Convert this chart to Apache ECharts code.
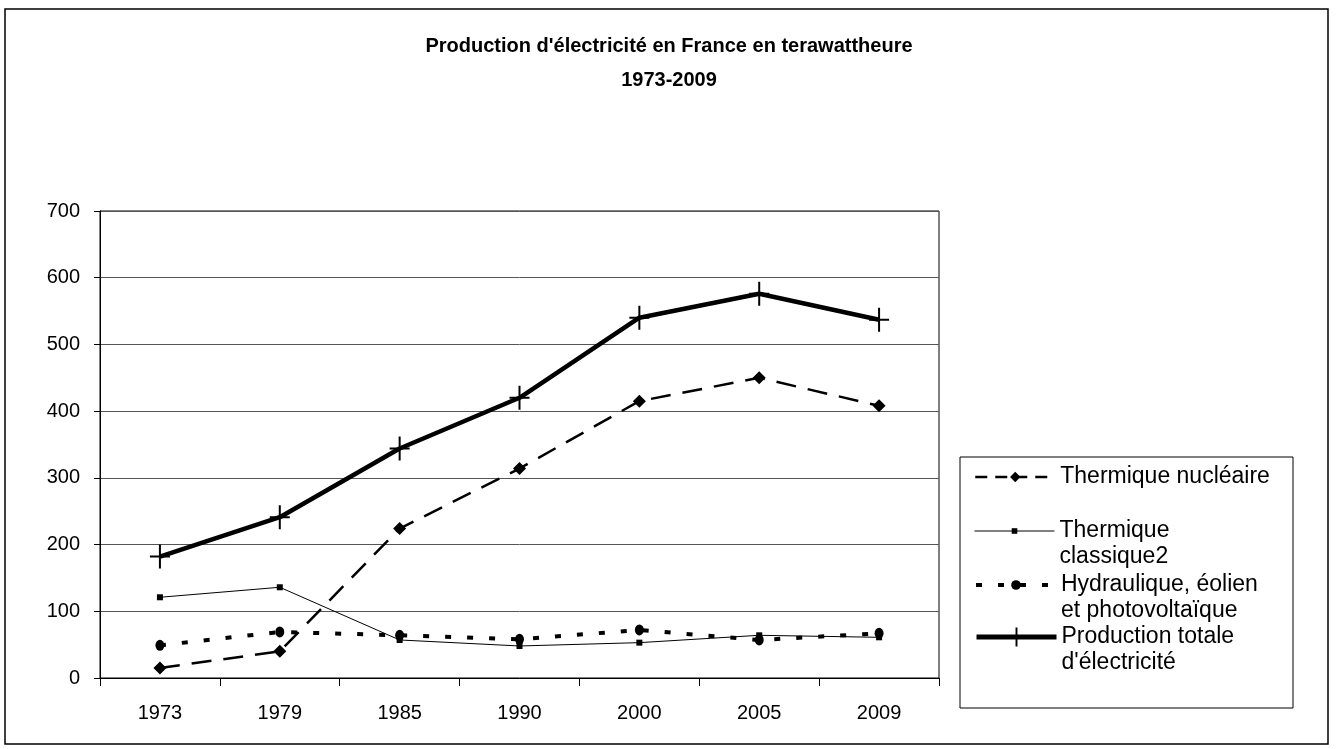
<!DOCTYPE html>
<html>
<head>
<meta charset="utf-8">
<script src="https://cdn.jsdelivr.net/npm/echarts@6/dist/echarts.min.js"></script>
<style>html,body{margin:0;padding:0;background:#fff}#c{width:1338px;height:749px}</style>
</head>
<body>
<div id="c"></div>
<script>
const years = ['1973', '1979', '1985', '1990', '2000', '2005', '2009'];
const nucleaire = [15, 40, 224, 314, 415, 450, 408];
const classique = [121, 136, 57, 48, 53, 64, 61];
const hydraulique = [49, 69, 64, 58, 72, 57, 67];
const totale = [182, 241, 344, 420, 540, 576, 537];
const names = ['Thermique nucléaire', 'Thermique\nclassique2', 'Hydraulique, éolien\net photovoltaïque', "Production totale\nd'électricité"];

const FONT = '"Liberation Sans", Arial, sans-serif';
const crossPath = 'path://M9,0h2v24h-2z M0,11h20v2h-20z';

function legendFor(i, top, twoLines, iconH, lineStyle) {
  return {
    data: [names[i]],
    left: 974, top: top, orient: 'vertical', padding: 0,
    itemWidth: 80, itemHeight: iconH, itemGap: 0,
    selectedMode: false,
    formatter: twoLines ? (n => '\n' + n) : (n => n),
    lineStyle: lineStyle,
    itemStyle: { color: '#000', borderWidth: 0 },
    textStyle: { fontFamily: FONT, fontSize: 23, color: '#000', lineHeight: 26 }
  };
}

const chart = echarts.init(document.getElementById('c'), null, { renderer: 'canvas' });
chart.setOption({
  animation: false,
  backgroundColor: '#fff',
  title: {
    text: "Production d'électricité en France en terawattheure\n1973-2009",
    left: 'center', top: 24,
    textStyle: { fontFamily: FONT, fontSize: 20, fontWeight: 'bold', color: '#000', lineHeight: 34 }
  },
  graphic: [
    { type: 'rect', shape: { x: 5, y: 9, width: 1323, height: 735 }, style: { fill: 'none', stroke: '#000', lineWidth: 1.5 }, silent: true },
    { type: 'rect', shape: { x: 960, y: 457, width: 333, height: 251 }, style: { fill: 'none', stroke: '#000', lineWidth: 1 }, silent: true }
  ],
  legend: [
    legendFor(0, 464, false, 13, { color: '#000', width: 2.5, type: [12, 8] }),
    legendFor(1, 492, true, 7, { color: '#000', width: 1, type: 'solid' }),
    legendFor(2, 546, true, 12, { color: '#000', width: 4, type: [6, 16] }),
    legendFor(3, 598, true, 24, { color: '#000', width: 5, type: 'solid' })
  ],
  grid: { left: 100, right: 399, top: 211, bottom: 71, show: true, borderColor: '#000', borderWidth: 1, backgroundColor: 'transparent' },
  xAxis: {
    type: 'category', data: years, boundaryGap: true,
    axisLine: { lineStyle: { color: '#000', width: 1 } },
    axisTick: { show: true, length: 8, lineStyle: { color: '#000' } },
    axisLabel: { fontFamily: FONT, fontSize: 20, color: '#000', margin: 25 }
  },
  yAxis: {
    type: 'value', min: 0, max: 700, interval: 100,
    axisLine: { show: true, lineStyle: { color: '#000', width: 1 } },
    axisTick: { show: true, length: 6, lineStyle: { color: '#000' } },
    axisLabel: { fontFamily: FONT, fontSize: 20, color: '#000', margin: 20 },
    splitLine: { lineStyle: { color: '#555', width: 1 } }
  },
  series: [
    { name: names[0], type: 'line', data: nucleaire, symbol: 'diamond', symbolSize: 13,
      lineStyle: { color: '#000', width: 2.5, type: [20, 12] }, itemStyle: { color: '#000' } },
    { name: names[1], type: 'line', data: classique, symbol: 'rect', symbolSize: 6,
      lineStyle: { color: '#000', width: 1 }, itemStyle: { color: '#000' } },
    { name: names[2], type: 'line', data: hydraulique, symbol: 'circle', symbolSize: [9, 11],
      lineStyle: { color: '#000', width: 4, type: [6, 16] }, itemStyle: { color: '#000' } },
    { name: names[3], type: 'line', data: totale, symbol: crossPath, symbolSize: [20, 24], symbolKeepAspect: false,
      lineStyle: { color: '#000', width: 4.5 }, itemStyle: { color: '#000' }, z: 5 }
  ]
});
</script>
</body>
</html>
